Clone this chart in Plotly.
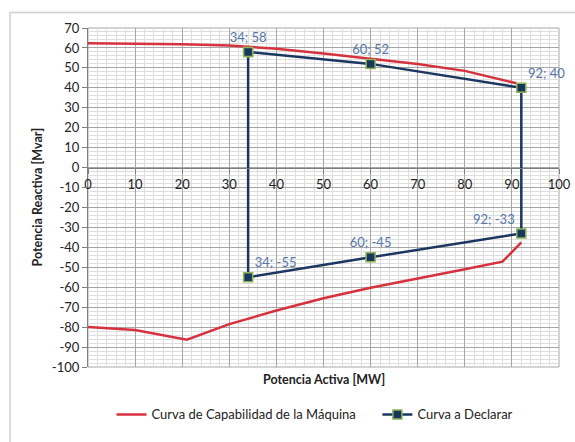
import plotly.graph_objects as go

# Capability curve (upper branch, gap, lower branch)
cap_x = [0, 10, 20, 30, 40, 50, 60, 70, 80, 90, 91, None,
         92, 88, 80, 70, 60, 50, 40, 30, 21, 10, 0]
cap_y = [62.3, 62.2, 61.8, 61.2, 59.6, 57.2, 54.5, 52.0, 48.5, 43.2, 42.3, None,
         -37.5, -47.2, -51.0, -55.5, -60.3, -65.5, -71.7, -78.5, -86.3, -81.5, -80.0]

# Declared curve (closed loop)
dec_x = [34, 60, 92, 92, 60, 34, 34]
dec_y = [58, 52, 40, -33, -45, -55, 58]
dec_labels = ["34; 58", "60; 52", "92; 40", "92; -33", "60; -45", "34; -55", ""]
dec_label_pos = ["top center", "top center", "top right", "top left",
                 "top center", "top right", "top center"]

x_ticks = list(range(0, 101, 10))
y_ticks = list(range(-100, 71, 10))
y_tick_labels = [str(v) for v in y_ticks]
x_tick_labels = [str(v) for v in x_ticks]

FONT = "Lato, 'Noto Sans', sans-serif"

fig = go.Figure()
fig.add_trace(go.Scatter(
    x=cap_x, y=cap_y, mode="lines",
    name="Curva de Capabilidad de la Máquina" + "\u00a0" * 5,
    line=dict(color="#d7313e", width=2.5), connectgaps=False,
))
fig.add_trace(go.Scatter(
    x=dec_x, y=dec_y, mode="lines+markers+text", name="Curva a Declarar",
    line=dict(color="#1b365f", width=2.5),
    marker=dict(symbol="square", size=9, color="#17375e",
                line=dict(color="#8fb356", width=1.5)),
    text=dec_labels, textposition=dec_label_pos, cliponaxis=False,
    textfont=dict(color="#5676a8", size=13, family=FONT),
))

fig.update_layout(
    width=575, height=442,
    margin=dict(l=88, r=16, t=28, b=66),
    paper_bgcolor="white", plot_bgcolor="white",
    font=dict(family=FONT, size=13, color="#222222"),
    showlegend=True,
    legend=dict(orientation="h", x=0.482, xanchor="center", y=-0.14, yanchor="middle",
                font=dict(size=13, color="#222222"), itemwidth=30,
                bgcolor="rgba(0,0,0,0)"),
    xaxis=dict(
        range=[0, 100], tickvals=x_ticks, ticktext=x_tick_labels,
        anchor="free", position=100 / 170, automargin=False,
        showline=True, linecolor="#7f7f7f", linewidth=1.2,
        ticks="outside", ticklen=5, tickcolor="#7f7f7f",
        showgrid=True, gridcolor="#a6a6a6", gridwidth=1,
        minor=dict(dtick=2, showgrid=True, gridcolor="#dedede", gridwidth=1),
        zeroline=False, tickfont=dict(size=13),
    ),
    yaxis=dict(
        range=[-100, 70], tickvals=y_ticks, ticktext=y_tick_labels,
        domain=[0, 1], automargin=False,
        showline=True, linecolor="#7f7f7f", linewidth=1.2,
        ticks="outside", ticklen=5, tickcolor="#7f7f7f",
        showgrid=True, gridcolor="#a6a6a6", gridwidth=1,
        minor=dict(dtick=2, showgrid=True, gridcolor="#dedede", gridwidth=1),
        zeroline=False, tickfont=dict(size=13),
    ),
    shapes=[
        dict(type="rect", xref="x domain", yref="y domain", x0=0, x1=1, y0=0, y1=1,
             line=dict(color="#a6a6a6", width=1), layer="below"),
        dict(type="rect", xref="paper", yref="paper",
             x0=(10 - 88) / 471, x1=(600 - 88) / 471,
             y0=(376 - 470) / 348, y1=(376 - 12) / 348,
             line=dict(color="#d0d0d0", width=1.5), layer="below"),
    ],
    annotations=[
        dict(text="<b>Potencia Activa [MW]</b>", xref="paper", yref="paper",
             x=0.5, y=-0.01, yanchor="top", showarrow=False,
             font=dict(size=12.5, color="#222222")),
        dict(text="<b>Potencia Reactiva [Mvar]</b>", xref="paper", yref="paper",
             x=(37 - 88) / 471, y=0.5, xanchor="center", yanchor="middle",
             textangle=-90, showarrow=False,
             font=dict(size=12.5, color="#222222")),
    ],
)

fig.write_html("out.html", config={"displayModeBar": False},
               post_script="document.body.style.margin='0px';document.body.style.overflow='hidden';")
